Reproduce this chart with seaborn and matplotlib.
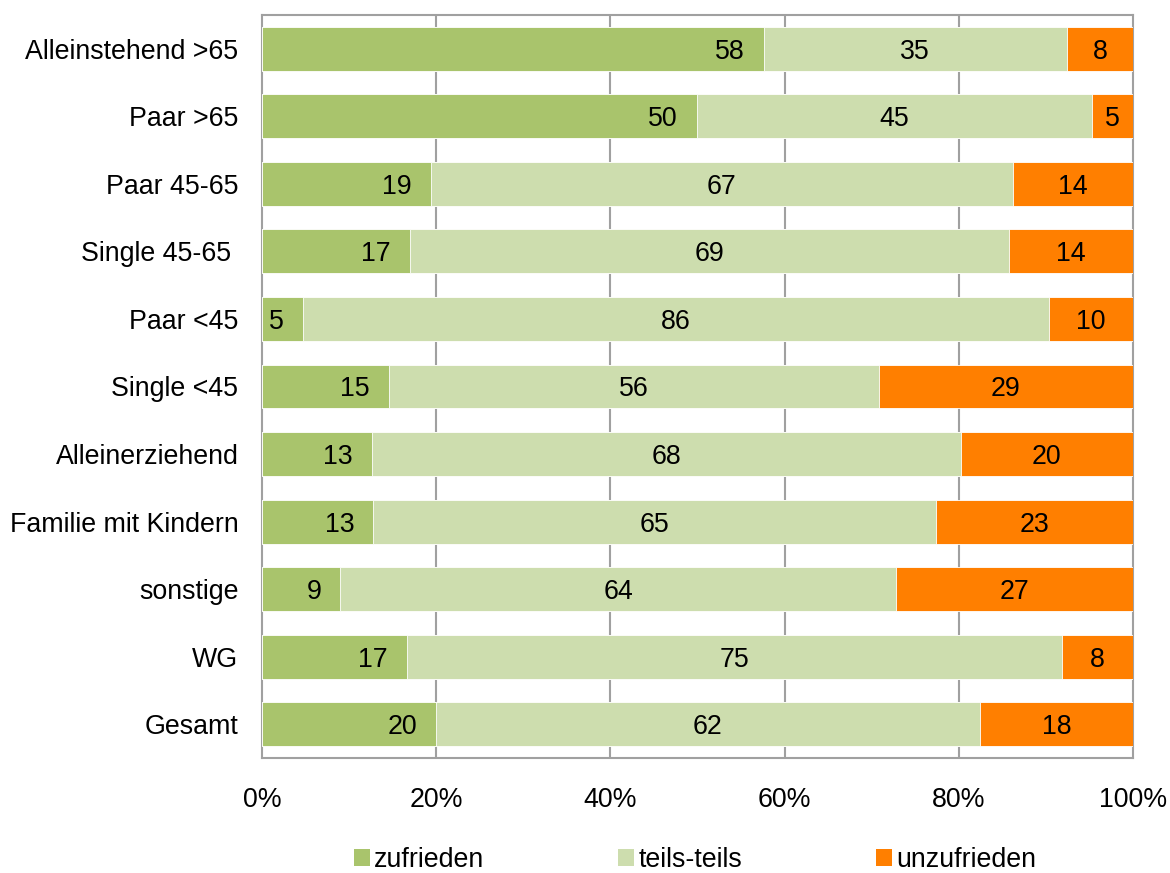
import matplotlib
matplotlib.use("Agg")
import matplotlib.pyplot as plt
import seaborn as sns
import pandas as pd
import numpy as np
from matplotlib.patches import Patch

categories = ["Alleinstehend >65", "Paar >65", "Paar 45-65", "Single 45-65 ", "Paar <45",
              "Single <45", "Alleinerziehend", "Familie mit Kindern", "sonstige", "WG", "Gesamt"]
zufrieden = [57.6, 49.9, 19.4, 17.0, 4.7, 14.6, 12.6, 12.8, 9.0, 16.6, 20.0]
teils = [34.8, 45.4, 66.8, 68.8, 85.7, 56.2, 67.6, 64.6, 63.8, 75.2, 62.4]
unzufrieden = [7.6, 4.7, 13.8, 14.2, 9.6, 29.2, 19.8, 22.6, 27.2, 8.2, 17.6]
series_names = ["zufrieden", "teils-teils", "unzufrieden"]
colors = ["#A9C46C", "#CDDDAE", "#FF7F00"]
xticks = [0, 20, 40, 60, 80, 100]

sns.set_style("white")
plt.rcParams['font.family'] = ['Liberation Sans', 'DejaVu Sans']
plt.rcParams['text.color'] = 'black'
plt.rcParams['xtick.color'] = 'black'
plt.rcParams['ytick.color'] = 'black'

FS = 19.3

df = pd.DataFrame({"cat": categories, "z": zufrieden, "t": teils, "u": unzufrieden})
df["c1"] = df["z"]
df["c2"] = df["z"] + df["t"]
df["c3"] = df["z"] + df["t"] + df["u"]

fig = plt.figure(figsize=(11.7, 8.73), dpi=100)
ax = fig.add_axes([262/1170, 1-758/873, (1133-262)/1170, (758-15)/873])

for col, c in zip(["c3", "c2", "c1"], colors[::-1]):
    sns.barplot(data=df, x=col, y="cat", orient="h", color=c, width=0.65,
                edgecolor="white", linewidth=0.6, ax=ax, saturation=1, zorder=3)

ax.set_xlim(0, 100)
ax.set_ylim(len(categories) - 0.5, -0.5)
ax.set_xticks(xticks)
ax.set_xticklabels([f"{v}%" for v in xticks])
ax.set_xlabel("")
ax.set_ylabel("")
ax.tick_params(axis="x", length=0, pad=21, labelsize=FS, labelcolor="black")
ax.tick_params(axis="y", length=0, pad=17, labelsize=FS, labelcolor="black")
for s in ax.spines.values():
    s.set_color("#A0A0A0")
    s.set_linewidth(1.5)
for v in xticks[1:-1]:
    ax.axvline(v, color="#A0A0A0", lw=1.5, zorder=1)

for i, row in df.iterrows():
    ax.text(row["c1"] - 2.2, i, f"{row['z']:.0f}", ha="right", va="center_baseline", fontsize=FS, color="black", zorder=5)
    ax.text((row["c1"] + row["c2"]) / 2, i, f"{row['t']:.0f}", ha="center", va="center_baseline", fontsize=FS, color="black", zorder=5)
    ax.text((row["c2"] + min(row["c3"], 100)) / 2, i, f"{row['u']:.0f}", ha="center", va="center_baseline", fontsize=FS, color="black", zorder=5)

handles = [Patch(facecolor=c, edgecolor="none") for c in colors]
fig.legend(handles, series_names, loc="center", bbox_to_anchor=(0.594, 1-860/873), ncol=3,
           frameon=False, fontsize=FS, handlelength=0.6, handleheight=0.6, handletextpad=0.15,
           columnspacing=5.0, labelcolor="black")

fig.savefig("out.png", dpi=100)
